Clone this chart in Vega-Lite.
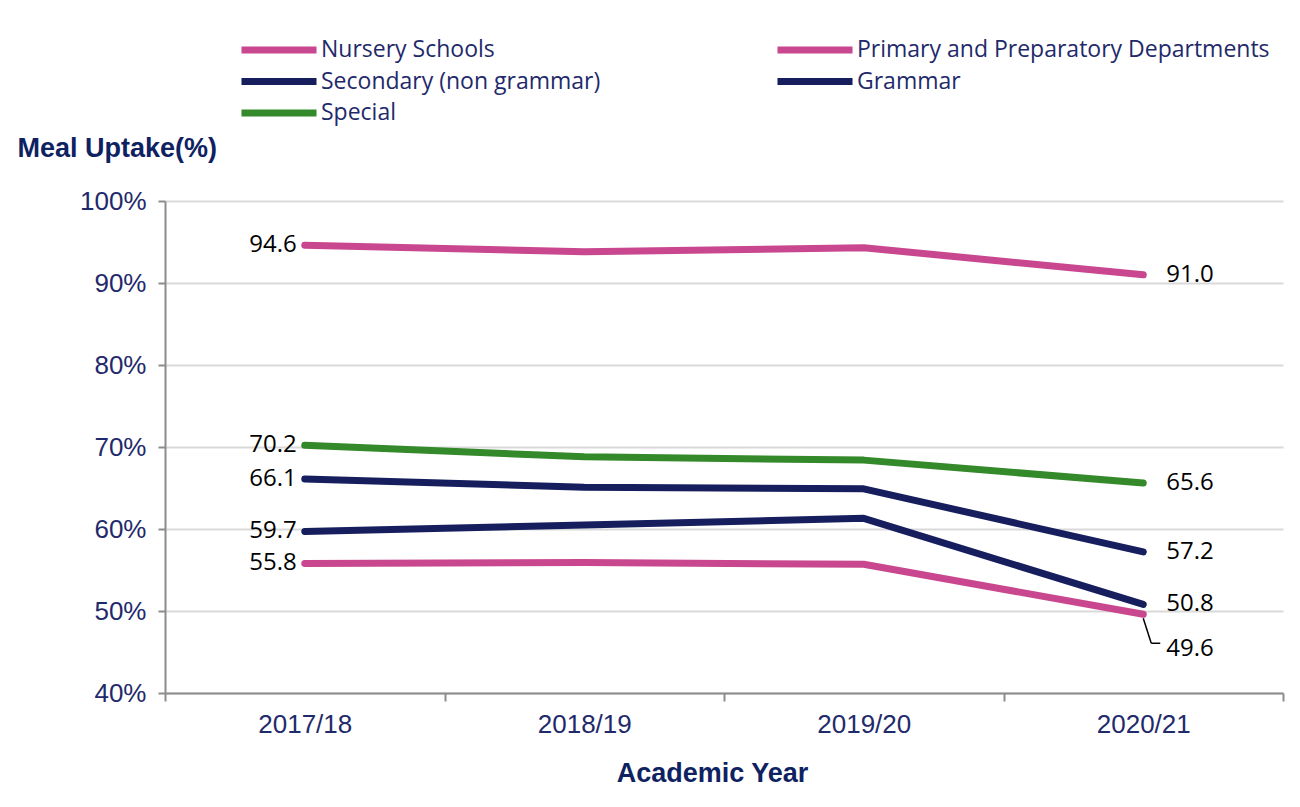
{
  "$schema": "https://vega.github.io/schema/vega-lite/v6.json",
  "width": 1118,
  "height": 492,
  "autosize": "none",
  "padding": {"left": 165, "top": 201, "right": 17, "bottom": 114},
  "background": "white",
  "data": {
    "values": [
      {"year": "2017/18", "type": "Nursery Schools", "value": 94.6},
      {"year": "2018/19", "type": "Nursery Schools", "value": 93.8},
      {"year": "2019/20", "type": "Nursery Schools", "value": 94.3},
      {"year": "2020/21", "type": "Nursery Schools", "value": 91.0},
      {"year": "2017/18", "type": "Primary and Preparatory Departments", "value": 55.8},
      {"year": "2018/19", "type": "Primary and Preparatory Departments", "value": 55.9},
      {"year": "2019/20", "type": "Primary and Preparatory Departments", "value": 55.7},
      {"year": "2020/21", "type": "Primary and Preparatory Departments", "value": 49.6},
      {"year": "2017/18", "type": "Secondary (non grammar)", "value": 59.7},
      {"year": "2018/19", "type": "Secondary (non grammar)", "value": 60.5},
      {"year": "2019/20", "type": "Secondary (non grammar)", "value": 61.3},
      {"year": "2020/21", "type": "Secondary (non grammar)", "value": 50.8},
      {"year": "2017/18", "type": "Grammar", "value": 66.1},
      {"year": "2018/19", "type": "Grammar", "value": 65.1},
      {"year": "2019/20", "type": "Grammar", "value": 64.9},
      {"year": "2020/21", "type": "Grammar", "value": 57.2},
      {"year": "2017/18", "type": "Special", "value": 70.2},
      {"year": "2018/19", "type": "Special", "value": 68.8},
      {"year": "2019/20", "type": "Special", "value": 68.4},
      {"year": "2020/21", "type": "Special", "value": 65.6}
    ]
  },
  "encoding": {
    "x": {
      "field": "year", "type": "nominal", "bandPosition": 0.5,
      "scale": {"type": "band", "paddingInner": 0, "paddingOuter": 0},
      "axis": {
        "title": "Academic Year", "tickBand": "extent", "grid": false, "labelAngle": 0,
        "domainColor": "#8c8c8c", "domainWidth": 2, "tickColor": "#8c8c8c", "tickWidth": 2, "tickSize": 8,
        "labelFont": "Liberation Sans", "labelFontSize": 26, "labelColor": "#1F2A6B", "labelPadding": 10,
        "titleFont": "Liberation Sans", "titleFontSize": 27, "titleFontWeight": "bold", "titleColor": "#0E2262",
        "titleX": 547, "titleY": 80, "titleBaseline": "middle"
      }
    },
    "y": {
      "field": "value", "type": "quantitative",
      "scale": {"domain": [40, 100], "nice": false, "zero": false},
      "axis": {
        "title": "Meal Uptake(%)", "titleAngle": 0, "titleAlign": "left", "titleX": -148, "titleY": -53,
        "titleBaseline": "middle", "titleFont": "Liberation Sans", "titleFontSize": 27, "titleFontWeight": "bold", "titleColor": "#0E2262",
        "values": [40, 50, 60, 70, 80, 90, 100], "labelExpr": "datum.value + '%'",
        "gridColor": "#d9d9d9", "gridWidth": 2,
        "domainColor": "#8c8c8c", "domainWidth": 2, "tickColor": "#8c8c8c", "tickWidth": 2, "tickSize": 7,
        "labelFont": "Liberation Sans", "labelFontSize": 26, "labelColor": "#1F2A6B", "labelPadding": 12
      }
    }
  },
  "layer": [
    {
      "mark": {"type": "line", "strokeWidth": 7, "strokeCap": "round", "strokeJoin": "round"},
      "encoding": {
        "color": {
          "field": "type", "type": "nominal",
          "scale": {
            "domain": ["Nursery Schools", "Primary and Preparatory Departments", "Secondary (non grammar)", "Grammar", "Special"],
            "range": ["#C9478F", "#C9478F", "#161E5E", "#161E5E", "#34892A"]
          },
          "legend": {
            "orient": "none", "direction": "horizontal", "legendX": 101, "legendY": -164, "columns": 2, "title": null,
            "symbolType": "M-4,0H4", "symbolSize": 352, "symbolStrokeWidth": 7,
            "labelOffset": 29, "labelFont": "Open Sans", "labelFontSize": 23, "labelColor": "#1F2A6B",
            "labelLimit": 700, "rowPadding": 3.5, "columnPadding": 162
          }
        }
      }
    },
    {
      "transform": [{"filter": "datum.year == '2017/18'"}],
      "mark": {"type": "text", "align": "right", "baseline": "middle", "dx": -8, "font": "Open Sans", "fontSize": 24, "color": "black"},
      "encoding": {"text": {"field": "value", "type": "quantitative", "format": ".1f"}}
    },
    {
      "transform": [{"filter": "datum.year == '2020/21' && datum.type != 'Primary and Preparatory Departments'"}],
      "mark": {"type": "text", "align": "left", "baseline": "middle", "dx": 23, "font": "Open Sans", "fontSize": 24, "color": "black"},
      "encoding": {"text": {"field": "value", "type": "quantitative", "format": ".1f"}}
    },
    {
      "transform": [{"filter": "datum.year == '2020/21' && datum.type == 'Primary and Preparatory Departments'"}],
      "mark": {"type": "text", "align": "left", "baseline": "middle", "dx": 23, "dy": 35, "font": "Open Sans", "fontSize": 24, "color": "black"},
      "encoding": {"text": {"field": "value", "type": "quantitative", "format": ".1f"}}
    },
    {
      "transform": [{"filter": "datum.year == '2020/21' && datum.type == 'Primary and Preparatory Departments'"}],
      "mark": {"type": "rule", "color": "black", "strokeWidth": 1.5, "yOffset": 4, "y2Offset": 29, "xOffset": 0, "x2Offset": 8},
      "encoding": {"x2": {"field": "year"}, "y2": {"field": "value"}}
    },
    {
      "transform": [{"filter": "datum.year == '2020/21' && datum.type == 'Primary and Preparatory Departments'"}],
      "mark": {"type": "rule", "color": "black", "strokeWidth": 1.5, "yOffset": 29, "y2Offset": 29, "xOffset": 8, "x2Offset": 17},
      "encoding": {"x2": {"field": "year"}, "y2": {"field": "value"}}
    }
  ],
  "config": {"view": {"stroke": null}}
}
